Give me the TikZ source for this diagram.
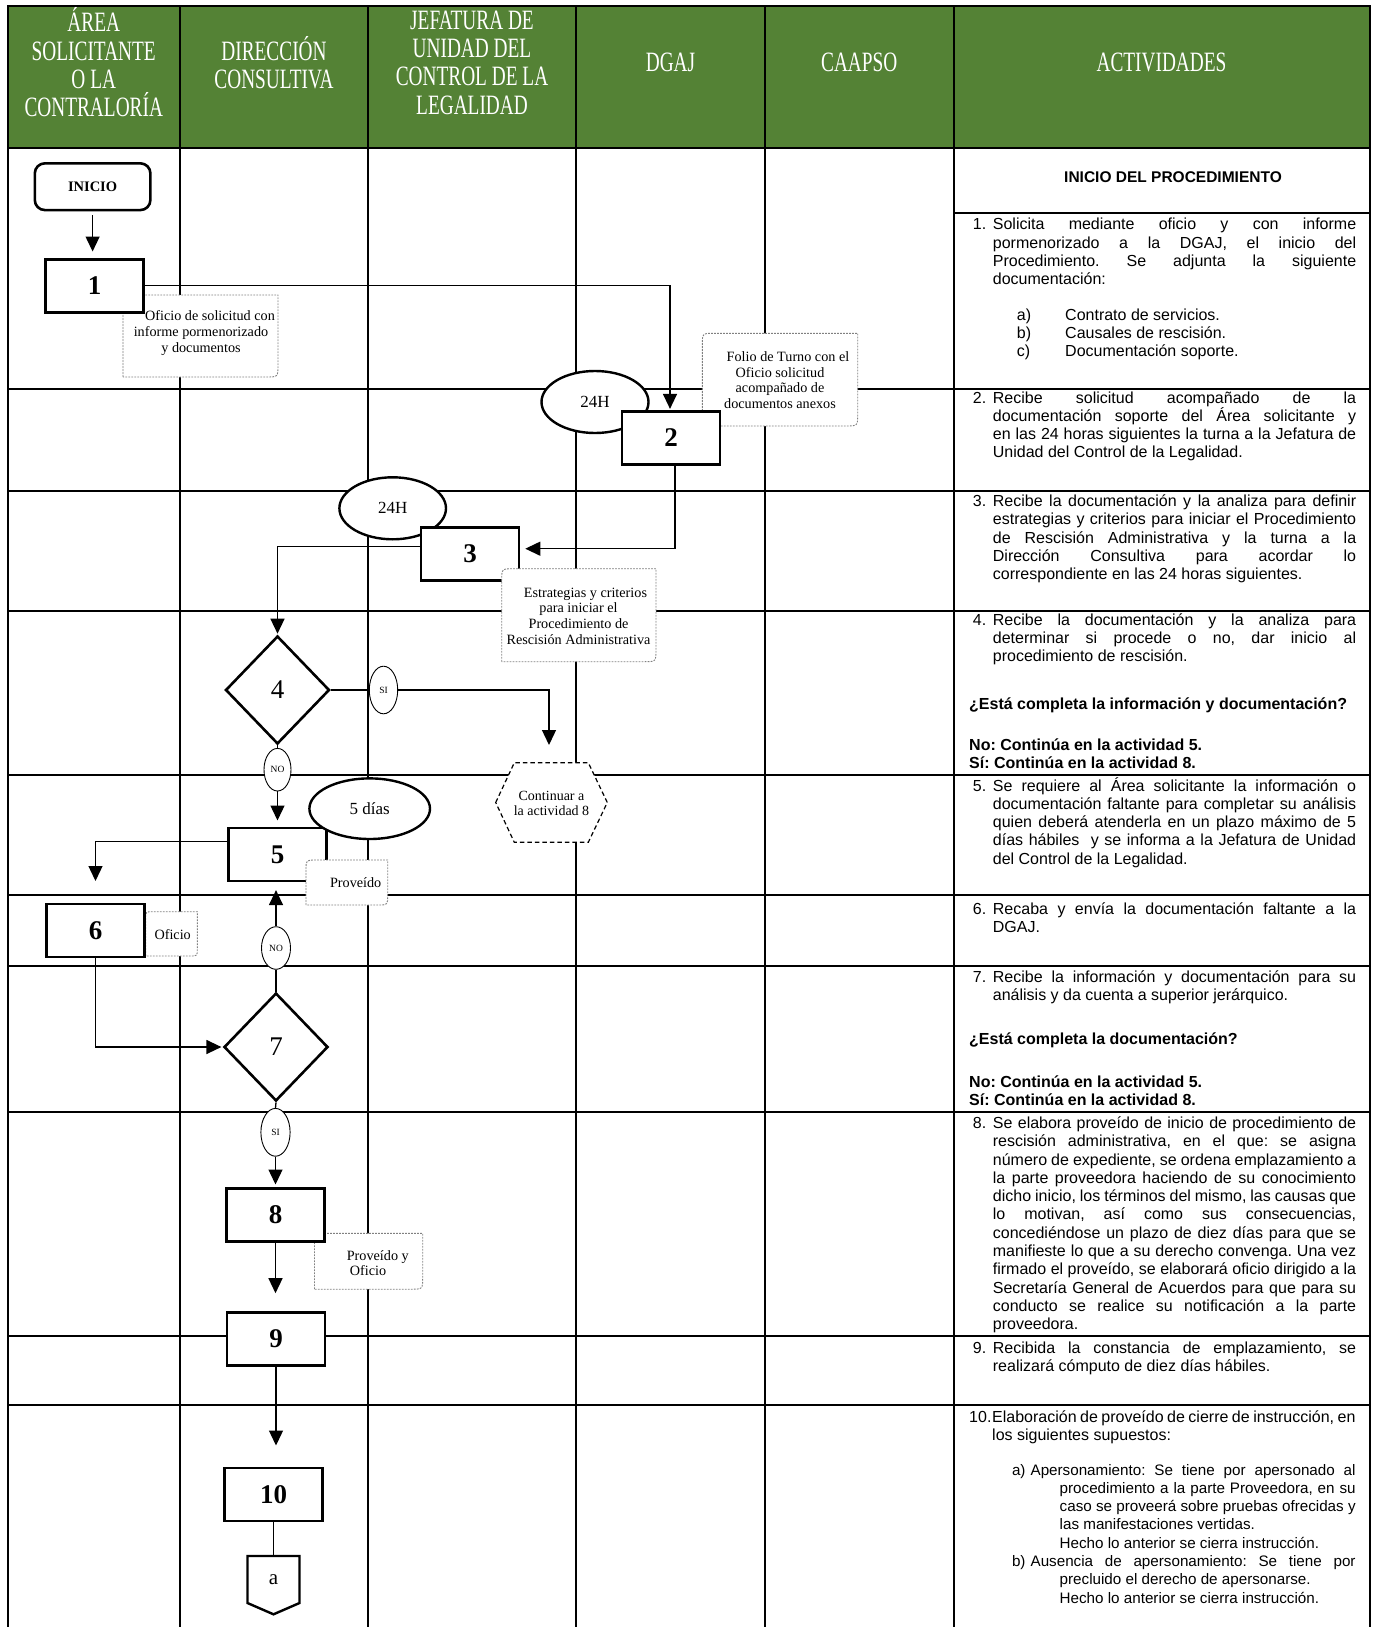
\documentclass[tikz,border=0pt]{standalone}
\usepackage{fontspec}
\setmainfont{Liberation Serif}
\newfontfamily\actfont{Liberation Sans}
\usetikzlibrary{arrows.meta,shapes.geometric,calc}
\definecolor{hdrgreen}{RGB}{84,130,53}
\hbadness=10000
\hfuzz=30pt

\tikzset{
  tableline/.style={line width=2pt, line cap=rect},
  hdr/.style={text=white, align=center, inner sep=0pt, xscale=0.69, font=\fontsize{28}{28.3}\selectfont},
  proc/.style={draw, rectangle, line width=2.6pt, fill=white, minimum width=98pt, minimum height=53pt, inner sep=0pt, font=\bfseries\fontsize{27}{30}\selectfont},
  startbox/.style={draw, rectangle, line width=2.6pt, fill=white, rounded corners=10pt, minimum width=115.6pt, minimum height=46.7pt, inner sep=0pt, font=\bfseries\fontsize{14.5}{16}\selectfont},
  dec/.style={draw, diamond, line width=2.6pt, fill=white, minimum width=104pt, minimum height=108pt, inner sep=0pt, font=\fontsize{27}{30}\selectfont},
  timeell/.style={draw, ellipse, line width=2.4pt, fill=white, inner sep=0pt, font=\fontsize{17}{20}\selectfont},
  yn/.style={draw, ellipse, line width=0.9pt, fill=white, inner sep=0pt, font=\fontsize{9.5}{11}\selectfont},
  notebox/.style={draw=black!50, dash pattern=on 1.8pt off 1.2pt, line width=0.9pt, fill=white},
  notetext/.style={align=center, inner sep=0pt, font=\fontsize{14.2}{15.6}\selectfont},
  hexline/.style={draw, dash pattern=on 4.5pt off 3pt, line width=1.2pt, fill=white},
  flow/.style={line width=1.3pt, -{Triangle[width=14pt,length=15pt]}},
  conline/.style={line width=1.3pt},
  act/.style={inner sep=0pt, anchor=base west, font=\actfont\fontsize{16}{18.3}\selectfont},
  actb/.style={inner sep=0pt, anchor=base west, font=\actfont\bfseries\fontsize{16}{18.3}\selectfont},
  actsub/.style={inner sep=0pt, anchor=base west, font=\actfont\fontsize{15.2}{18.3}\selectfont},
}

% document note outline: x1 y1 x2 y2 radius (top-left and bottom-right corners rounded)
\newcommand\notepath[5]{%
  \path[notebox] (#1,#4) -- (#1,#2+#5) .. controls (#1,#2) .. (#1+#5,#2) -- (#3,#2)
    -- (#3,#4-#5) .. controls (#3,#4) .. (#3-#5,#4) -- cycle;}
% justified line: name, x, baseline, width, text
\newcommand\jl[5]{\node[act] (#1) at (#2,#3) {\hbox to #4pt{#5}};}
% ragged line: name, x, baseline, text
\newcommand\rl[4]{\node[act] (#1) at (#2,#3) {#4};}
\newcommand\bl[4]{\node[actb] (#1) at (#2,#3) {#4};}
\newcommand\sjl[5]{\node[actsub] (#1) at (#2,#3) {\hbox to #4pt{#5}};}
\newcommand\srl[4]{\node[actsub] (#1) at (#2,#3) {#4};}

\begin{document}
\frenchspacing
\begin{tikzpicture}[x=1pt,y=-1pt]
\useasboundingbox (0,0) rectangle (1376,1627);

% ---------- table ----------
\fill[hdrgreen] (7.5,6) rectangle (1369.5,148);
\foreach \xx in {7.5,180,368,576,765,953.5,1369.5}
  \draw[tableline] (\xx,6) -- (\xx,1632);
\foreach \yy in {6,148,389,490.7,610.7,775,895,966,1112.3,1336,1404.5}
  \draw[tableline] (7.5,\yy) -- (1369.5,\yy);
\draw[tableline] (953.5,213) -- (1369.5,213);

% ---------- headers ----------
\node[hdr] (h1) at (93.75,62.5) {ÁREA\\SOLICITANTE\\O LA\\CONTRALORÍA};
\node[hdr] (h2) at (274,62.5) {DIRECCIÓN\\CONSULTIVA};
\node[hdr] (h3) at (472,62.5) {JEFATURA DE\\UNIDAD DEL\\CONTROL DE LA\\LEGALIDAD};
\node[hdr] (h4) at (670.5,62.5) {DGAJ};
\node[hdr] (h5) at (859.25,62.5) {CAAPSO};
\node[hdr] (h6) at (1161.5,62.5) {ACTIVIDADES};

% ---------- notes lying under the process boxes ----------
\notepath{123}{295}{278}{377}{12}
\node[notetext] (n1) at (201,333) {\hspace*{18pt}Oficio de solicitud con\\informe pormenorizado\\y documentos};
\notepath{702.3}{333.3}{857.7}{426}{12}
\node[notetext] (n2) at (780,380) {\hspace*{16pt}Folio de Turno con el\\Oficio solicitud\\acompañado de\\documentos anexos};
\notepath{314.5}{1233.4}{422.7}{1289.2}{12}
\node[notetext] (n8) at (368,1263) {\hspace*{19.6pt}Proveído y\\Oficio};
\notepath{145.7}{911.7}{197.3}{956}{7}
\node[notetext] (n6) at (172.7,934.3) {Oficio};

% ---------- time ellipses ----------
\node[timeell, minimum width=107pt, minimum height=62pt] (e24a) at (595,402) {24H};
\node[timeell, minimum width=106.6pt, minimum height=62pt] (e24b) at (392.7,508.3) {24H};

% ---------- flow nodes ----------
\node[startbox] (inicio) at (92.6,186.7) {INICIO};
\node[proc] (b1) at (94.5,285.8) {1};
\node[proc] (b2) at (671,437.7) {2};
\node[proc] (b3) at (470,553.7) {3};
\node[dec] (d4) at (277.5,690) {4};
\node[proc] (b5) at (277.5,854.3) {5};
\node[proc] (b6) at (95.5,930.3) {6};
\node[dec] (d7) at (276,1047) {7};
\node[proc] (b8) at (275.5,1215) {8};
\node[proc] (b9) at (276,1339) {9};
\node[proc] (b10) at (273.5,1494.3) {10};

\node[yn, minimum width=28.4pt, minimum height=47.6pt] (si4) at (383.5,690) {SI};
\node[yn, minimum width=27pt, minimum height=42.6pt] (no4) at (277.5,769.7) {NO};
\node[yn, minimum width=29pt, minimum height=42.6pt] (no7) at (276,948) {NO};
\node[yn, minimum width=29.2pt, minimum height=47.8pt] (si7) at (275.5,1132.3) {SI};

% ---------- notes lying over the process boxes ----------
\notepath{501.7}{568.7}{656}{661.7}{12}
\node[notetext] (n3) at (578.5,616) {\hspace*{14pt}Estrategias y criterios\\para iniciar el\\Procedimiento de\\Rescisión Administrativa};
\notepath{306}{860}{387.7}{905}{10}
\node[notetext] (n5) at (355.7,883) {Proveído};

\node[timeell, minimum width=120.6pt, minimum height=60.6pt] (e5d) at (369.7,808.7) {5 días};

% ---------- connector to activity 8 ----------
\path[hexline] (495.7,802.5) -- (514.3,762.7) -- (588.3,762.7) -- (607.3,802.5) -- (588.3,842.3) -- (514.3,842.3) -- cycle;
\node[font=\fontsize{14}{15}\selectfont, align=center, inner sep=0pt] (h8) at (551.5,803) {Continuar a\\la actividad 8};
\coordinate (h8in) at (549,745);

% ---------- off-page connector ----------
\path[draw, line width=2.4pt, fill=white] (247.5,1556) -- (299.5,1556) -- (299.5,1603) -- (273.5,1614.3) -- (247.5,1603) -- cycle;
\coordinate (atop) at (273.5,1556);
\node[font=\fontsize{21}{24}\selectfont, inner sep=0pt] (pa) at (273.5,1580) {a};

% ---------- connectors ----------
\draw[flow, shorten <=4pt, shorten >=6.5pt] (inicio.south) -- (inicio.south |- b1.north);
\draw[flow, shorten >=1pt] (b1.east) -| ([xshift=-1pt]b2.north);
\draw[flow, shorten >=5pt] ([xshift=4pt]b2.south) |- ([yshift=5pt]b3.east);
\draw[flow, shorten >=1pt] ([yshift=7pt]b3.west) -| (d4.north);
\draw[conline] (d4.east) -- (si4.west);
\draw[flow] (si4.east) -| (h8in);
\draw[conline] (d4.south) -- (no4.north);
\draw[flow, shorten >=6pt] (no4.south) -- (no4.south |- b5.north);
\draw[flow, shorten >=21.5pt] ([yshift=12.6pt]b5.west) -| (b6.north);
\draw[flow, shorten >=1.3pt] (b6.south) |- (d7.west);
\draw[conline] (d7.north) -- (no7.south);
\draw[flow, shorten >=8pt] (no7.north) -- (no7.north |- b5.south);
\draw[conline] (d7.south) -- (si7.north);
\draw[flow, shorten >=2.7pt] (si7.south) -- (si7.south |- b8.north);
\draw[flow, shorten >=18pt] (b8.south) -- (b8.south |- b9.north);
\draw[flow, shorten >=21pt] (b9.south) -- (b9.south |- b10.north);
\draw[conline] (b10.south) -- (b10.south |- atop);

% ---------- activities ----------
\node[inner sep=0pt, font=\actfont\bfseries\fontsize{15.5}{18}\selectfont] (t0) at (1173,177.5) {INICIO DEL PROCEDIMIENTO};

\rl{t1n}{972.7}{229.7}{1.}
\jl{t1a}{992.7}{229.7}{363.3}{Solicita mediante oficio y con informe}
\jl{t1b}{992.7}{248}{363.3}{pormenorizado a la DGAJ, el inicio del}
\jl{t1c}{992.7}{266.3}{363.3}{Procedimiento. Se adjunta la siguiente}
\rl{t1d}{992.7}{284.6}{documentación:}
\rl{t1e}{1016.7}{320}{a)}
\rl{t1f}{1065}{320}{Contrato de servicios.}
\rl{t1g}{1016.7}{338.3}{b)}
\rl{t1h}{1065}{338.3}{Causales de rescisión.}
\rl{t1i}{1016.7}{356.6}{c)}
\rl{t1j}{1065}{356.6}{Documentación soporte.}

\rl{t2n}{972.7}{403}{2.}
\jl{t2a}{992.7}{403}{363.3}{Recibe solicitud acompañado de la}
\jl{t2b}{992.7}{421.3}{363.3}{documentación soporte del Área solicitante y}
\jl{t2c}{992.7}{439.6}{363.3}{en las 24 horas siguientes la turna a la Jefatura de}
\rl{t2d}{992.7}{457.9}{Unidad del Control de la Legalidad.}

\rl{t3n}{972.7}{506.5}{3.}
\jl{t3a}{992.7}{506.5}{363.3}{Recibe la documentación y la analiza para definir}
\jl{t3b}{992.7}{524.8}{363.3}{estrategias y criterios para iniciar el Procedimiento}
\jl{t3c}{992.7}{543.1}{363.3}{de Rescisión Administrativa y la turna a la}
\jl{t3d}{992.7}{561.4}{363.3}{Dirección Consultiva para acordar lo}
\rl{t3e}{992.7}{579.7}{correspondiente en las 24 horas siguientes.}

\rl{t4n}{972.7}{625}{4.}
\jl{t4a}{992.7}{625}{363.3}{Recibe la documentación y la analiza para}
\jl{t4b}{992.7}{643.3}{363.3}{determinar si procede o no, dar inicio al}
\rl{t4c}{992.7}{661.6}{procedimiento de rescisión.}
\bl{t4d}{969}{709}{¿Está completa la información y documentación?}
\bl{t4e}{969}{750.5}{No: Continúa en la actividad 5.}
\bl{t4f}{969}{768.8}{Sí: Continúa en la actividad 8.}

\rl{t5n}{972.7}{791}{5.}
\jl{t5a}{992.7}{791}{363.3}{Se requiere al Área solicitante la información o}
\jl{t5b}{992.7}{809.3}{363.3}{documentación faltante para completar su análisis}
\jl{t5c}{992.7}{827.6}{363.3}{quien deberá atenderla en un plazo máximo de 5}
\jl{t5d}{992.7}{845.9}{363.3}{días hábiles\ \ y se informa a la Jefatura de Unidad}
\rl{t5e}{992.7}{864.2}{del Control de la Legalidad.}

\rl{t6n}{972.7}{914.3}{6.}
\jl{t6a}{992.7}{914.3}{363.3}{Recaba y envía la documentación faltante a la}
\rl{t6b}{992.7}{932.6}{DGAJ.}

\rl{t7n}{972.7}{982.3}{7.}
\jl{t7a}{992.7}{982.3}{363.3}{Recibe la información y documentación para su}
\rl{t7b}{992.7}{1000.6}{análisis y da cuenta a superior jerárquico.}
\bl{t7c}{969}{1044}{¿Está completa la documentación?}
\bl{t7d}{969}{1087}{No: Continúa en la actividad 5.}
\bl{t7e}{969}{1105.3}{Sí: Continúa en la actividad 8.}

\rl{t8n}{972.7}{1128.4}{8.}
\jl{t8a}{992.7}{1128.4}{363.3}{Se elabora proveído de inicio de procedimiento de}
\jl{t8b}{992.7}{1146.7}{363.3}{rescisión administrativa, en el que: se asigna}
\jl{t8c}{992.7}{1165}{363.3}{número de expediente, se ordena emplazamiento a}
\jl{t8d}{992.7}{1183.3}{363.3}{la parte proveedora haciendo de su conocimiento}
\jl{t8e}{992.7}{1201.6}{363.3}{dicho inicio, los términos del mismo, las causas que}
\jl{t8f}{992.7}{1219.9}{363.3}{lo motivan, así como sus consecuencias,}
\jl{t8g}{992.7}{1238.2}{363.3}{concediéndose un plazo de diez días para que se}
\jl{t8h}{992.7}{1256.5}{363.3}{manifieste lo que a su derecho convenga. Una vez}
\jl{t8i}{992.7}{1274.8}{363.3}{firmado el proveído, se elaborará oficio dirigido a la}
\jl{t8j}{992.7}{1293.1}{363.3}{Secretaría General de Acuerdos para que para su}
\jl{t8k}{992.7}{1311.4}{363.3}{conducto se realice su notificación a la parte}
\rl{t8l}{992.7}{1329.7}{proveedora.}

\rl{t9n}{972.7}{1353.6}{9.}
\jl{t9a}{992.7}{1353.6}{363.3}{Recibida la constancia de emplazamiento, se}
\rl{t9b}{992.7}{1371.9}{realizará cómputo de diez días hábiles.}

\rl{t10n}{969}{1422}{10.}
\jl{t10a}{992}{1422}{363.3}{Elaboración de proveído de cierre de instrucción, en}
\rl{t10b}{992}{1440.3}{los siguientes supuestos:}
\srl{t10c}{1011.8}{1475}{a)}
\sjl{t10d}{1030.4}{1475}{325}{Apersonamiento: Se tiene por apersonado al}
\sjl{t10e}{1059.5}{1493.3}{296}{procedimiento a la parte Proveedora, en su}
\sjl{t10f}{1059.5}{1511.6}{296}{caso se proveerá sobre pruebas ofrecidas y}
\srl{t10g}{1059.5}{1529.9}{las manifestaciones vertidas.}
\srl{t10h}{1059.5}{1548.2}{Hecho lo anterior se cierra instrucción.}
\srl{t10i}{1011.8}{1566.5}{b)}
\sjl{t10j}{1030.4}{1566.5}{325}{Ausencia de apersonamiento: Se tiene por}
\srl{t10k}{1059.5}{1584.8}{precluido el derecho de apersonarse.}
\srl{t10l}{1059.5}{1603.1}{Hecho lo anterior se cierra instrucción.}

\end{tikzpicture}
\end{document}
